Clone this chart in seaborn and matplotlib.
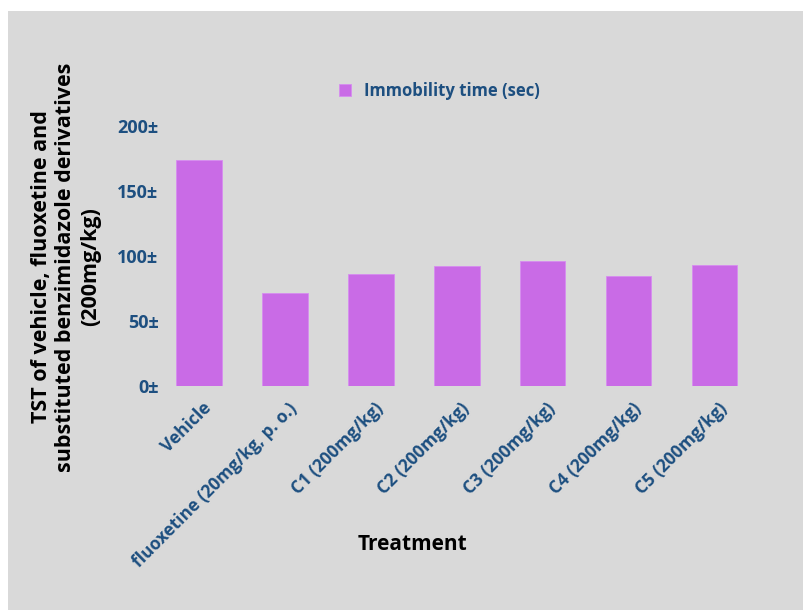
import matplotlib
matplotlib.use('Agg')
import matplotlib.pyplot as plt
import matplotlib.transforms as mtransforms
from matplotlib.patches import Rectangle
import pandas as pd
import seaborn as sns

# データ
treatments = ['Vehicle', 'fluoxetine (20mg/kg, p. o.)', 'C1 (200mg/kg)', 'C2 (200mg/kg)',
              'C3 (200mg/kg)', 'C4 (200mg/kg)', 'C5 (200mg/kg)']
immobility_sec = [173.5, 71.5, 86.0, 92.0, 96.0, 84.5, 93.0]
y_ticks = [0, 50, 100, 150, 200]
y_tick_labels = ['0±', '50±', '100±', '150±', '200±']
legend_label = 'Immobility time (sec)'

BG = '#d9d9d9'
BAR = '#c96be6'
BLUE = '#1d4f80'

sns.set_theme(style='white')
plt.rcParams['font.family'] = ['Open Sans', 'DejaVu Sans']

df = pd.DataFrame({'treatment': treatments, 'value': immobility_sec})

fig = plt.figure(figsize=(8.04, 6.10), dpi=100)
fig.patch.set_facecolor('white')
# 灰色の背景（左上に白い余白）
fig.patches.append(Rectangle((8 / 804, 0), 1, 1 - 11 / 610, transform=fig.transFigure,
                             facecolor=BG, edgecolor='none', zorder=-10))

ax = fig.add_axes([0.1937, 0.3672, 0.7487, 0.4262])
ax.set_facecolor('none')
sns.barplot(data=df, x='treatment', y='value', color=BAR, width=0.53, ax=ax,
            saturation=1, edgecolor='#d68cf0', linewidth=0.6, label=legend_label)
ax.set_ylim(0, 200)
ax.set_xlim(-0.5, len(treatments) - 0.5)
for s in ax.spines.values():
    s.set_visible(False)
ax.set_xlabel('')
ax.set_ylabel('')

ax.set_yticks(y_ticks)
ax.set_yticklabels(y_tick_labels, fontsize=13, fontweight='bold', color=BLUE)
ax.tick_params(axis='y', length=0, pad=-2)
ax.tick_params(axis='x', length=0, pad=14)
ax.set_xticks(range(len(treatments)))
ax.set_xticklabels(treatments, rotation=45, ha='right', va='center', rotation_mode='anchor',
                   fontsize=12.5, fontweight='bold', color=BLUE)
offset = mtransforms.ScaledTranslation(10 / 100, 0, fig.dpi_scale_trans)
for lbl in ax.get_xticklabels():
    lbl.set_transform(lbl.get_transform() + offset)

leg = ax.legend(loc='center', bbox_to_anchor=(0.472, 1.135), frameon=False,
                handlelength=0.7, handleheight=0.7, handletextpad=0.8,
                prop={'size': 12, 'weight': 'bold'})
for t in leg.get_texts():
    t.set_color(BLUE)

fig.text(66 / 804, 1 - 267 / 610,
         'TST of vehicle, fluoxetine and\nsubstituted benzimidazole derivatives\n(200mg/kg)',
         rotation=90, ha='center', va='center', multialignment='center',
         fontsize=15.5, fontweight='bold', color='black', linespacing=1.2)
fig.text(413 / 804, 1 - 545 / 610, 'Treatment', ha='center', va='center',
         fontsize=15, fontweight='bold', color='black')

fig.savefig('out.png', dpi=100)
